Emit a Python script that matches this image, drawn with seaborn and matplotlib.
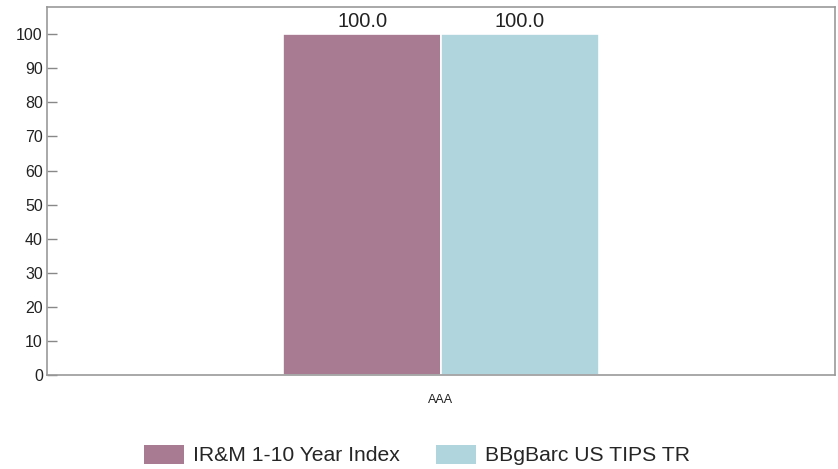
import matplotlib
matplotlib.use("Agg")
import matplotlib.pyplot as plt
import seaborn as sns
import pandas as pd
from matplotlib.patches import Patch

categories = ["AAA"]
series = ["IR&M 1-10 Year Index", "BBgBarc US TIPS TR"]
values_irm = [100.0]
values_tips = [100.0]
colors = ["#A87B93", "#B0D5DD"]
yticks = [0, 10, 20, 30, 40, 50, 60, 70, 80, 90, 100]

df = pd.DataFrame({
    "rating": categories * 2,
    "series": [series[0]] * len(categories) + [series[1]] * len(categories),
    "value": values_irm + values_tips,
})

sns.set_style("white")
plt.rcParams["font.family"] = ["Liberation Sans", "DejaVu Sans"]

fig = plt.figure(figsize=(8.38, 4.69), dpi=100)
ax = fig.add_axes([47 / 838, 1 - 375 / 469, 788 / 838, 368 / 469])

sns.barplot(data=df, x="rating", y="value", hue="series", palette=colors,
            width=0.4, gap=0, saturation=1, edgecolor="white", linewidth=1.2,
            ax=ax, legend=False)

for cont in ax.containers:
    ax.bar_label(cont, fmt="%.1f", fontsize=14.5, color="#222222", padding=2)

ax.set_xlim(-0.5, 0.5)
ax.set_ylim(0, 108)
ax.set_yticks(yticks)
ax.set_xlabel("")
ax.set_ylabel("")
ax.tick_params(axis="y", left=True, direction="in", length=7, width=1,
               color="#888888", labelsize=11.5, labelcolor="#222222", pad=3)
ax.tick_params(axis="x", bottom=False, labelsize=9, labelcolor="#222222", pad=10)
for sp in ax.spines.values():
    sp.set_color("#999999")
    sp.set_linewidth(1.2)

handles = [Patch(facecolor=c, edgecolor="none") for c in colors]
fig.legend(handles, series, loc="center", bbox_to_anchor=(0.498, 1 - 455 / 469),
           ncol=2, frameon=False, fontsize=15.2, handlelength=1.9, handleheight=1.05,
           columnspacing=1.7, handletextpad=0.43)

fig.savefig("out.png", dpi=100)
